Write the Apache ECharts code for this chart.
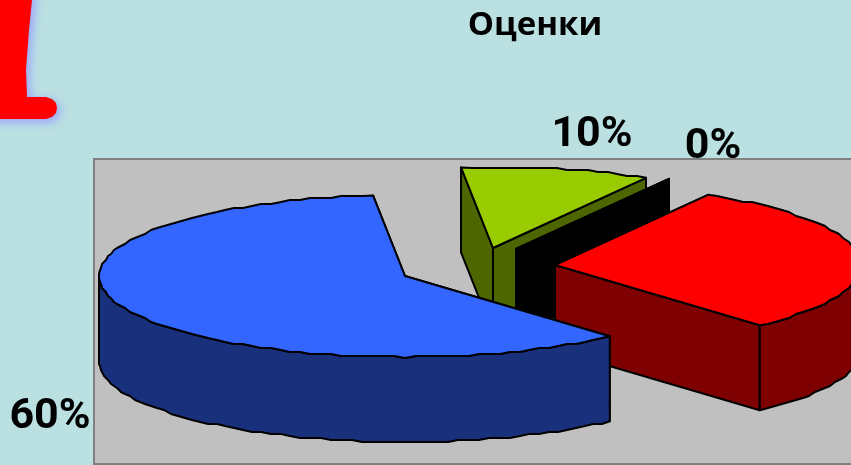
<!DOCTYPE html>
<html>
<head>
<meta charset="utf-8">
<style>
  html, body { margin: 0; padding: 0; background: #bae0e2; }
  #chart { width: 851px; height: 465px; overflow: hidden; }
</style>
<script src="https://cdn.jsdelivr.net/npm/echarts@6/dist/echarts.min.js"></script>
</head>
<body>
<div id="chart"></div>
<script>
const titleText = "Оценки"
const sliceShares = [60, 10, 0, 30]
const sliceLabels = ["60%", "10%", "0%", ""]

// цвета и раскладка секторов (синий, зелёный, чёрный, красный)
const topColors = ["#3366ff", "#99cc00", "#000000", "#ff0000"]
const sideColors = ["#19317c", "#4d6600", "#000000", "#7f0000"]
const centers = [[405, 276], [493, 248], [516, 249], [555, 265]]
const labelPos = [[50, 417], [592, 135], [713, 147], [0, 0]]
const drawOrder = [3, 0, 1, 2] // синий ближе всех
const RX = 306
const RY = 81
const DEPTH = 85
const START = 48

const rad = (a) => (a * Math.PI) / 180
const rimPoint = (c, t, drop) => [
  c[0] + RX * Math.cos(rad(t)),
  c[1] + RY * Math.sin(rad(t)) + drop
]

// край в оригинале неровный, поэтому дуга идёт ступеньками
function arcPoints(c, from, to, drop) {
  const pts = []
  const steps = Math.max(1, Math.ceil((to - from) / 2))
  for (let i = 0; i <= steps; i++) {
    const p = rimPoint(c, from + ((to - from) * i) / steps, drop)
    const ends = i === 0 || i === steps
    pts.push(ends ? p : [Math.round(p[0]), Math.round(p[1] / 2) * 2])
  }
  return pts
}

function face(points, fill, z2) {
  return {
    type: "polygon",
    z2: z2,
    shape: { points: points },
    style: { fill: fill, stroke: "#000", lineWidth: 2, lineJoin: "round" }
  }
}

function renderSlice(params, api) {
  const i = params.dataIndex
  const share = api.value(0)
  let from = START
  for (let k = 0; k < i; k++) from += sliceShares[k] * 3.6
  const to = from + share * 3.6
  const c = centers[i]
  const base = drawOrder[i] * 10 + 10
  const children = []

  // срезы
  ;[from, to].forEach((t) => {
    const rim = rimPoint(c, t, 0)
    children.push(
      face([c, rim, [rim[0], rim[1] + DEPTH], [c[0], c[1] + DEPTH]], sideColors[i], base)
    )
  })
  // внешняя стенка, только передняя половина
  ;[[0, 180], [360, 540]].forEach((range) => {
    const a = Math.max(from, range[0])
    const b = Math.min(to, range[1])
    if (b > a) {
      const upper = arcPoints(c, a, b, 0)
      const lower = arcPoints(c, a, b, DEPTH).reverse()
      children.push(face(upper.concat(lower), sideColors[i], base + 1))
    }
  })
  // верх
  children.push(face([c].concat(arcPoints(c, from, to, 0)), topColors[i], base + 2))

  if (sliceLabels[i]) {
    children.push({
      type: "text",
      z2: 100,
      style: {
        text: sliceLabels[i],
        x: labelPos[i][0],
        y: labelPos[i][1],
        align: "center",
        verticalAlign: "middle",
        fill: "#000",
        fontFamily: "Roboto",
        fontWeight: "bold",
        fontSize: 43
      }
    })
  }
  return { type: "group", children: children }
}

const chart = echarts.init(document.getElementById("chart"))
const option = {
  animation: false,
  backgroundColor: "#bae0e2",
  title: {
    text: titleText,
    left: 530,
    top: 4,
    textAlign: "center",
    textStyle: { fontFamily: "Open Sans", fontWeight: "bold", fontSize: 33, color: "#000" }
  },
  graphic: [
    {
      type: "rect",
      z: -1,
      silent: true,
      shape: { x: 94, y: 159, width: 800, height: 305 },
      style: { fill: "#c0c0c0", stroke: "#808080", lineWidth: 2 }
    },
    {
      // обрезанная красная буква из оригинала
      type: "polygon",
      z: 5,
      silent: true,
      shape: {
        points: [[-30, -10], [33, -10], [29, 30], [26, 70], [27, 97], [46, 97], [52, 99], [56, 103], [57, 108], [56, 113], [52, 117], [46, 119], [-30, 119]]
      },
      style: {
        fill: "#ff0000",
        shadowColor: "#9aa0ff",
        shadowBlur: 10,
        shadowOffsetX: 3,
        shadowOffsetY: 3
      }
    }
  ],
  series: [
    {
      type: "custom",
      coordinateSystem: "none",
      renderItem: renderSlice,
      clip: false,
      data: sliceShares
    }
  ]
}
chart.setOption(option)
</script>
</body>
</html>
